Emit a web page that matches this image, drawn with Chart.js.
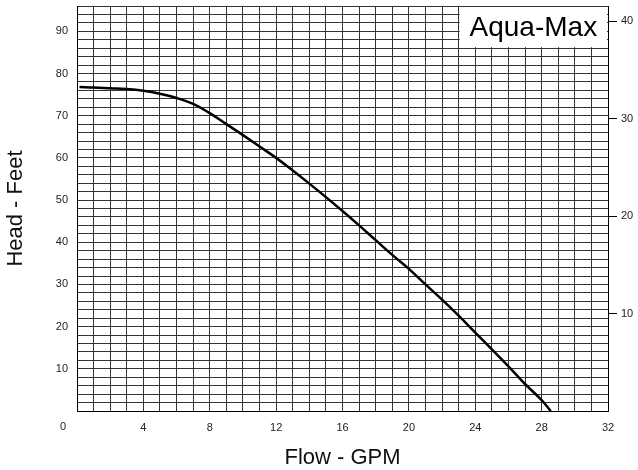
<!DOCTYPE html>
<html>
<head>
<meta charset="utf-8">
<script src="https://cdn.jsdelivr.net/npm/chart.js@4.4.1/dist/chart.umd.min.js"></script>
<style>
  html, body { margin: 0; padding: 0; background: #fff; }
  #wrap { width: 638px; height: 470px; }
</style>
</head>
<body>
<div id="wrap"><canvas id="pumpChart" width="638" height="470"></canvas></div>
<script>
// pump curve
const flowGpm = [0.15, 1, 2, 3, 4, 5, 6, 7, 8, 9, 10, 11, 12, 13, 14, 15, 16, 17, 18, 19, 20, 21, 22, 23, 24, 25, 26, 27, 28, 28.55];
const headFeet = [76.8, 76.7, 76.5, 76.3, 75.9, 75.2, 74.2, 72.8, 70.6, 68.0, 65.4, 62.7, 60.0, 57.0, 53.9, 50.7, 47.4, 44.0, 40.5, 37.0, 33.7, 30.0, 26.4, 22.6, 18.6, 14.6, 10.6, 6.4, 2.6, 0];

const flowLabels = [4, 8, 12, 16, 20, 24, 28, 32];
const headLabels = [10, 20, 30, 40, 50, 60, 70, 80, 90];
const psiLabels = [10, 20, 30, 40];

const FEET_PER_PSI = 2.31;
const HEAD_MAX = 96;
const FLOW_MAX = 32;

const points = flowGpm.map((f, i) => ({ x: f, y: headFeet[i] }));

const gridColor = '#333';
const tickFont = { family: 'Liberation Sans, Arial, sans-serif', size: 11 };
const titleFont = { family: 'Liberation Sans, Arial, sans-serif', size: 22, lineHeight: 1.1 };

/*------------------name box + origin label------------------------*/
const extras = {
    id: 'extras',
    beforeDatasetsDraw(chart) {
        const { ctx, chartArea, scales } = chart;
        const x1 = scales.x.getPixelForValue(23);
        const y2 = scales.y.getPixelForValue(86);
        ctx.save();
        ctx.fillStyle = '#fff';
        ctx.fillRect(x1 + 1, chartArea.top + 1, chartArea.right - x1 - 2, y2 - chartArea.top - 2);
        ctx.fillStyle = '#000';
        ctx.font = '28px Liberation Sans, Arial, sans-serif';
        ctx.textAlign = 'center';
        ctx.textBaseline = 'alphabetic';
        ctx.fillText('Aqua-Max', (x1 + chartArea.right) / 2, chartArea.top + 30);
        ctx.restore();
    },
    afterDraw(chart) {
        const { ctx, chartArea, scales } = chart;
        ctx.save();
        ctx.fillStyle = '#222';
        ctx.font = '11px Liberation Sans, Arial, sans-serif';
        ctx.textAlign = 'center';
        ctx.textBaseline = 'middle';
        ctx.fillText('0', scales.x.getPixelForValue(0) - 14, chartArea.bottom + 16);
        ctx.restore();
    }
};

const noEndPad = s => { s.paddingTop = 0; s.paddingBottom = 0; };

const ctx = document.getElementById('pumpChart').getContext('2d');
new Chart(ctx, {
    type: 'scatter',
    data: {
        datasets: [{
            data: points,
            showLine: true,
            borderColor: '#000',
            borderWidth: 2.5,
            pointRadius: 0,
            tension: 0.4,
            yAxisID: 'y'
        }]
    },
    options: {
        responsive: false,
        animation: false,
        layout: { padding: { top: 6, left: 0, right: 0, bottom: 0 } },
        plugins: { legend: { display: false }, tooltip: { enabled: false } },
        scales: {
            x: {
                type: 'linear',
                min: 0,
                max: FLOW_MAX,
                afterFit: s => { s.height = 59; s.paddingLeft = 0; s.paddingRight = 0; },
                ticks: {
                    stepSize: 1,
                    maxTicksLimit: 100,
                    autoSkip: false,
                    maxRotation: 0,
                    padding: 10,
                    color: '#222',
                    font: tickFont,
                    callback: v => flowLabels.includes(v) ? String(v) : ''
                },
                grid: { color: gridColor, lineWidth: 1, drawTicks: false },
                border: { color: '#000', width: 1 },
                title: { display: true, text: 'Flow - GPM', color: '#111', font: titleFont, padding: 0 }
            },
            y: {
                type: 'linear',
                position: 'left',
                min: 0,
                max: HEAD_MAX,
                afterFit: s => { s.width = 77; noEndPad(s); },
                ticks: {
                    stepSize: 2,
                    maxTicksLimit: 100,
                    autoSkip: false,
                    padding: 9,
                    color: '#222',
                    font: tickFont,
                    callback: v => headLabels.includes(v) ? String(v) : ''
                },
                grid: { color: gridColor, lineWidth: 1, drawTicks: false },
                border: { color: '#000', width: 1 },
                title: { display: true, text: 'Head - Feet', color: '#111', font: titleFont, padding: { top: 4, bottom: 0 } }
            },
            y2: {
                type: 'linear',
                position: 'right',
                min: 0,
                max: HEAD_MAX / FEET_PER_PSI,
                afterFit: s => { s.width = 30; noEndPad(s); },
                afterBuildTicks: s => { s.ticks = s.ticks.filter(t => psiLabels.includes(t.value)); },
                ticks: {
                    stepSize: 10,
                    padding: 4,
                    color: '#222',
                    font: tickFont
                },
                grid: { drawOnChartArea: false, drawTicks: true, tickLength: 9, color: '#000', lineWidth: 1 },
                border: { color: '#000', width: 1 }
            }
        }
    },
    plugins: [extras]
});
</script>
</body>
</html>
